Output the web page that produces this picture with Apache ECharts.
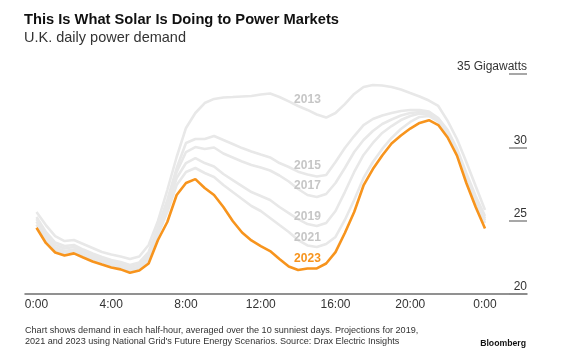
<!DOCTYPE html>
<html><head><meta charset="utf-8">
<script src="https://cdn.jsdelivr.net/npm/echarts@6/dist/echarts.min.js"></script>
<style>html,body{margin:0;padding:0;background:#fff}#c{width:571px;height:361px}</style>
</head><body><div id="c"></div>
<script>
// Half-hour time points (hours after midnight)
const hours = [0,0.5,1,1.5,2,2.5,3,3.5,4,4.5,5,5.5,6,6.5,7,7.5,8,8.5,9,9.5,10,10.5,11,11.5,12,12.5,13,13.5,14,14.5,15,15.5,16,16.5,17,17.5,18,18.5,19,19.5,20,20.5,21,21.5,22,22.5,23,23.5,24];

const years = ['2013','2015','2017','2019','2021','2023'];

// Demand, GW
const d2013 = [25.59,24.70,23.95,23.61,23.68,23.41,23.14,22.86,22.69,22.56,22.39,22.56,23.34,24.98,27.09,29.34,31.32,32.34,33.02,33.30,33.40,33.43,33.47,33.50,33.60,33.67,33.43,33.13,32.82,32.55,32.24,32.03,32.34,32.95,33.64,34.11,34.25,34.22,34.11,33.94,33.70,33.47,33.19,32.82,31.80,30.57,29.00,27.36,25.73];
const d2015 = [25.25,24.23,23.51,23.27,23.34,23.03,22.76,22.52,22.32,22.18,21.98,22.15,22.86,24.57,26.41,28.59,30.30,30.57,30.57,30.77,30.50,30.23,29.95,29.72,29.51,29.31,28.93,28.66,28.34,28.15,28.01,28.11,29.00,29.95,30.77,31.52,31.93,32.17,32.34,32.48,32.55,32.55,32.44,32.00,31.18,29.92,28.25,26.68,25.32];
const d2017 = [25.11,24.06,23.34,23.10,23.20,22.90,22.63,22.39,22.18,22.05,21.84,22.01,22.69,24.43,26.20,28.32,29.68,30.02,29.89,29.99,29.58,29.31,29.03,28.80,28.63,28.42,28.08,27.67,27.16,26.75,26.61,26.82,27.57,28.59,29.68,30.50,31.11,31.59,31.90,32.17,32.34,32.41,32.34,31.93,31.08,29.82,28.08,26.51,25.15];
const d2019 = [24.94,23.89,23.17,22.93,23.03,22.76,22.49,22.25,22.05,21.91,21.70,21.88,22.52,24.23,25.93,27.91,28.93,29.27,28.93,28.69,28.18,27.77,27.36,26.95,26.68,26.41,25.93,25.52,25.11,24.77,24.64,24.84,25.66,26.95,28.32,29.48,30.30,30.98,31.45,31.86,32.14,32.31,32.24,31.86,30.98,29.72,27.94,26.38,25.01];
const d2021 = [24.74,23.68,23.00,22.80,22.93,22.63,22.35,22.15,21.94,21.81,21.60,21.74,22.32,24.02,25.59,27.43,28.32,28.59,28.25,27.98,27.43,26.95,26.48,26.00,25.66,25.18,24.70,24.23,23.68,23.31,23.20,23.41,23.89,25.05,26.41,27.91,29.00,29.89,30.64,31.25,31.73,32.07,32.14,31.76,30.88,29.61,27.77,26.20,24.84];
const d2023 = [24.52,23.48,22.83,22.62,22.77,22.49,22.22,22.01,21.81,21.68,21.45,21.60,22.08,23.68,24.91,26.75,27.57,27.83,27.23,26.75,25.93,24.98,24.19,23.65,23.27,22.93,22.39,21.88,21.64,21.74,21.75,22.08,22.86,24.16,25.59,27.40,28.52,29.44,30.26,30.81,31.28,31.66,31.85,31.52,30.67,29.44,27.57,25.93,24.47];

const seriesValues = [d2013, d2015, d2017, d2019, d2021, d2023];

// Tick labels
const xTicks = [0,4,8,12,16,20,24];
const xTickLabels = ['0:00','4:00','8:00','12:00','16:00','20:00','0:00'];
const yTicks = [20,25,30,35];
const yTickLabels = ['20','25','30','35 Gigawatts'];

// Year label anchors (annotation placement, in axis units)
const labelHour = 14.5;
const labelValues = [33.27, 28.77, 27.36, 25.27, 23.87, 22.39];

const GRAY = '#e8e8e8';
const GRAY_TXT = '#c6c6c6';
const ORANGE = '#f7941d';
const FONT = '"Liberation Sans", Arial, Helvetica, sans-serif';

const chart = echarts.init(document.getElementById('c'), null, {renderer: 'canvas'});

const series = years.map((yr, k) => {
  const isLast = k === years.length - 1;
  const col = isLast ? ORANGE : GRAY;
  return {
    type: 'line',
    name: yr,
    data: hours.map((h, i) => [h, seriesValues[k][i]]),
    showSymbol: false,
    symbol: 'none',
    smooth: false,
    z: isLast ? 5 : 2,
    lineStyle: {color: col, width: 2.6},
    silent: true,
    markPoint: {
      silent: true,
      symbol: 'circle',
      symbolSize: 0,
      itemStyle: {color: 'rgba(0,0,0,0)'},
      data: [{coord: [labelHour, labelValues[k]]}],
      label: {
        show: true,
        position: 'inside',
        formatter: yr,
        color: isLast ? ORANGE : GRAY_TXT,
        fontFamily: FONT,
        fontWeight: 'bold',
        fontSize: 12
      }
    }
  };
});

chart.setOption({
  animation: false,
  backgroundColor: '#ffffff',
  grid: {left: 25, right: 44, top: 74, bottom: 67, containLabel: false},
  xAxis: {
    type: 'value',
    min: -0.6154,
    max: 26.2475,
    axisLine: {show: true, onZero: false, lineStyle: {color: '#6e6e6e', width: 1.5}},
    axisTick: {show: false, customValues: xTicks},
    splitLine: {show: false},
    axisLabel: {
      customValues: xTicks,
      margin: 5,
      color: '#333',
      fontFamily: FONT,
      fontSize: 12,
      formatter: v => xTickLabels[xTicks.indexOf(v)]
    }
  },
  yAxis: {
    type: 'value',
    position: 'right',
    min: 20,
    max: 35,
    interval: 5,
    axisLine: {show: false, onZero: false},
    splitLine: {show: false},
    axisTick: {show: true, inside: true, length: 18, lineStyle: {color: '#8a8a8a', width: 1.5}},
    axisLabel: {
      inside: true,
      margin: 0,
      color: '#333',
      fontFamily: FONT,
      fontSize: 12,
      verticalAlign: 'bottom',
      padding: [0, 0, 1, 0],
      formatter: v => yTickLabels[yTicks.indexOf(v)]
    }
  },
  graphic: [
    {type: 'text', left: 24, top: 12, silent: true,
     style: {text: 'This Is What Solar Is Doing to Power Markets', fill: '#111', font: 'bold 14.7px ' + FONT}},
    {type: 'text', left: 24, top: 30, silent: true,
     style: {text: 'U.K. daily power demand', fill: '#333', font: '14.5px ' + FONT}},
    {type: 'text', left: 25, top: 326, silent: true,
     style: {text: 'Chart shows demand in each half-hour, averaged over the 10 sunniest days. Projections for 2019,', fill: '#333', font: '9.1px ' + FONT}},
    {type: 'text', left: 25, top: 337, silent: true,
     style: {text: "2021 and 2023 using National Grid's Future Energy Scenarios. Source: Drax Electric Insights", fill: '#333', font: '9.1px ' + FONT}},
    {type: 'text', right: 45, top: 339, silent: true,
     style: {text: 'Bloomberg', fill: '#111', font: 'bold 8.7px ' + FONT}}
  ],
  series: series
});
</script>
</body></html>
